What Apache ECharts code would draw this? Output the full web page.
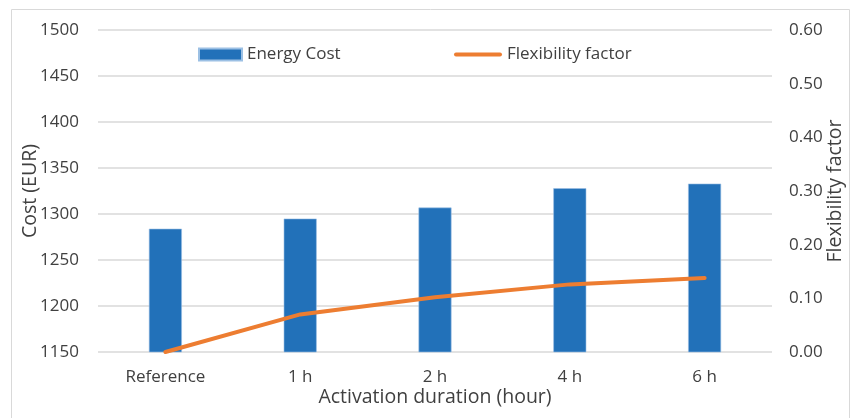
<!DOCTYPE html>
<html><head><meta charset="utf-8">
<script src="https://cdn.jsdelivr.net/npm/echarts@6/dist/echarts.min.js"></script>
<style>html,body{margin:0;padding:0;background:#fff}#c{width:855px;height:418px}</style>
</head><body><div id="c"></div>
<script>
const categories = ['Reference', '1 h', '2 h', '4 h', '6 h'];
const energyCost = [1284, 1295, 1307, 1328, 1333];
const flexibilityFactor = [0, 0.07, 0.102, 0.126, 0.138];

const chart = echarts.init(document.getElementById('c'));
const font = 'Open Sans';
const txt = '#404040';
const legendText = { fontFamily: font, fontSize: 17, color: txt };
chart.setOption({
  animation: false,
  textStyle: { fontFamily: font },
  graphic: [{ type: 'rect', shape: { x: 11.5, y: 9.5, width: 838, height: 420 }, style: { fill: 'none', stroke: '#D9D9D9', lineWidth: 1 } }],
  legend: [{
    top: 46, left: 198, padding: 0, itemWidth: 43, itemHeight: 12, itemGap: 0,
    textStyle: legendText,
    data: [{ name: 'Energy Cost', icon: 'rect' }]
  }, {
    top: 46, left: 454, padding: 0, itemWidth: 48, itemHeight: 12, itemGap: 0,
    textStyle: legendText,
    data: [{ name: 'Flexibility factor', icon: 'path://M2,0 L46,0 A2,2 0 0 1 46,4 L2,4 A2,2 0 0 1 2,0 Z' }]
  }],
  grid: { left: 98, right: 83, top: 30, bottom: 66, outerBoundsMode: 'none' },
  xAxis: {
    type: 'category', data: categories,
    axisLine: { show: false }, axisTick: { show: false },
    axisLabel: { fontSize: 17, color: txt, margin: 17 },
    name: 'Activation duration (hour)', nameLocation: 'middle', nameGap: 35, nameMoveOverlap: false,
    nameTextStyle: { fontSize: 19.5, color: txt }
  },
  yAxis: [{
    type: 'value', min: 1150, max: 1500, interval: 50,
    axisLabel: { fontSize: 17, color: txt, margin: 19, formatter: v => String(v) },
    splitLine: { lineStyle: { color: '#D9D9D9', width: 1.5 } },
    name: 'Cost (EUR)', nameLocation: 'middle', nameGap: 58, nameRotate: 90, nameMoveOverlap: false,
    nameTextStyle: { fontSize: 19.5, color: txt }
  }, {
    type: 'value', min: 0, max: 0.6, interval: 0.1,
    axisLabel: { fontSize: 17, color: txt, margin: 17, formatter: v => v.toFixed(2) },
    splitLine: { show: false },
    name: 'Flexibility factor', nameLocation: 'middle', nameGap: 53, nameRotate: 90, nameMoveOverlap: false,
    nameTextStyle: { fontSize: 19.5, color: txt }
  }],
  series: [{
    name: 'Energy Cost', type: 'bar', data: energyCost, barWidth: 33,
    itemStyle: { color: '#2271B9', borderColor: '#9CC0E4', borderWidth: 0.6 }
  }, {
    name: 'Flexibility factor', type: 'line', yAxisIndex: 1, data: flexibilityFactor,
    showSymbol: false, symbol: 'none',
    lineStyle: { color: '#ED7D31', width: 4, cap: 'round' }, itemStyle: { color: '#ED7D31' }
  }]
});
</script></body></html>
